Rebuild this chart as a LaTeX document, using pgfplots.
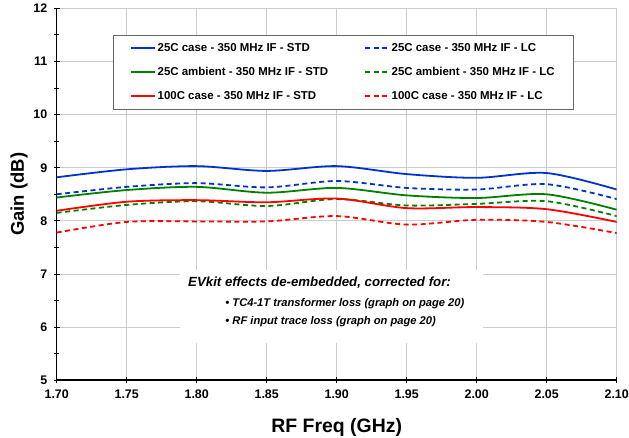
\documentclass[border=0pt]{standalone}
\usepackage{pgfplots}
\pgfplotsset{compat=1.18}
\usepackage{pgfplotstable}
\usepackage{fontspec}
\setmainfont{Liberation Sans}
\definecolor{cblue}{RGB}{0,51,204}
\definecolor{cgreen}{RGB}{0,128,0}
\definecolor{cred}{RGB}{255,0,0}
\pgfplotstableread{
x    bs    bd    gs    gd    rs    rd
1.70 8.82  8.50  8.44  8.15  8.19  7.78
1.75 8.97  8.64  8.58  8.30  8.36  7.98
1.80 9.03  8.71  8.64  8.37  8.39  7.99
1.85 8.94  8.63  8.53  8.28  8.35  7.99
1.90 9.03  8.75  8.62  8.41  8.42  8.09
1.95 8.88  8.62  8.48  8.29  8.24  7.93
2.00 8.81  8.59  8.43  8.32  8.26  8.02
2.05 8.90  8.69  8.50  8.37  8.22  7.98
2.10 8.59  8.41  8.21  8.09  7.98  7.77
}\gaindata
\newcommand{\colone}[1]{\makebox[205bp][l]{#1}}
\begin{document}
\begin{tikzpicture}
\begin{axis}[
  scale only axis, width=560bp, height=372bp,
  xmin=1.7, xmax=2.1, ymin=5, ymax=12,
  xtick={1.70,1.75,1.80,1.85,1.90,1.95,2.00,2.05,2.10},
  xticklabels={1.70,1.75,1.80,1.85,1.90,1.95,2.00,2.05,2.10},
  ytick={5,6,7,8,9,10,11,12},
  yticklabels={5,6,7,8,9,10,11,12},
  minor y tick num=1,
  grid=major,
  major grid style={draw=black!20, line width=0.8bp},
  axis x line*=bottom, axis y line*=left,
  axis line style={-, black, line width=1.6bp},
  tick align=center, major tick length=6bp, minor tick length=5bp,
  tick style={black, line width=1bp},
  ticklabel style={font=\fontsize{12.5}{14}\selectfont\bfseries},
  xticklabel style={yshift=-3bp},
  yticklabel style={xshift=-3bp},
  xlabel={RF Freq (GHz)}, ylabel={Gain (dB)},
  xlabel style={font=\fontsize{19.5}{22}\selectfont\bfseries, at={(axis description cs:0.5,-0.1255)}, anchor=center},
  ylabel style={font=\fontsize{18.5}{21}\selectfont\bfseries, at={(axis description cs:-0.067,0.5)}, anchor=center, rotate=0},
  legend columns=2,
  legend cell align=left,
  legend style={at={(rel axis cs:0.1005,0.929)}, anchor=north west,
    draw=black!60, fill=white,
    inner xsep=17bp, inner ysep=8bp, row sep=13.5bp,
    font=\fontsize{11.5}{13}\selectfont\bfseries,
    nodes={inner xsep=1.5bp, inner ysep=0.5bp}},
  legend image code/.code={\draw[#1, line width=2bp] (0bp,0bp) -- (24bp,0bp);},
  every axis plot/.append style={line width=1.8bp, smooth},
]
\addplot[cblue] table[x=x,y=bs]{\gaindata};
\addlegendentry{\colone{25C case - 350 MHz IF - STD}}
\addplot[cblue, dash pattern=on 5bp off 3.5bp] table[x=x,y=bd]{\gaindata};
\addlegendentry{25C case - 350 MHz IF - LC}
\addplot[cgreen] table[x=x,y=gs]{\gaindata};
\addlegendentry{\colone{25C ambient - 350 MHz IF - STD}}
\addplot[cgreen, dash pattern=on 5bp off 3.5bp] table[x=x,y=gd]{\gaindata};
\addlegendentry{25C ambient - 350 MHz IF - LC}
\addplot[cred] table[x=x,y=rs]{\gaindata};
\addlegendentry{\colone{100C case - 350 MHz IF - STD}}
\addplot[cred, dash pattern=on 5bp off 3.5bp] table[x=x,y=rd]{\gaindata};
\addlegendentry{100C case - 350 MHz IF - LC}
\fill[white] (axis cs:1.788,5.70) rectangle (axis cs:2.0045,7.07);
\node[anchor=west, inner sep=0pt, font=\fontsize{13.3}{15}\selectfont\bfseries\itshape] at (axis cs:1.7938,6.83) {EVkit effects de-embedded, corrected for:};
\node[anchor=west, inner sep=0pt, font=\fontsize{11.2}{13}\selectfont\bfseries\itshape] at (axis cs:1.8204,6.44) {• TC4-1T transformer loss (graph on page 20)};
\node[anchor=west, inner sep=0pt, font=\fontsize{11.2}{13}\selectfont\bfseries\itshape] at (axis cs:1.8204,6.105) {• RF input trace loss (graph on page 20)};
\end{axis}
\pgfresetboundingbox
\path (current axis.south west) ++(-56.7bp,-57.7bp) rectangle ++(629bp,438bp);
\end{tikzpicture}
\end{document}
